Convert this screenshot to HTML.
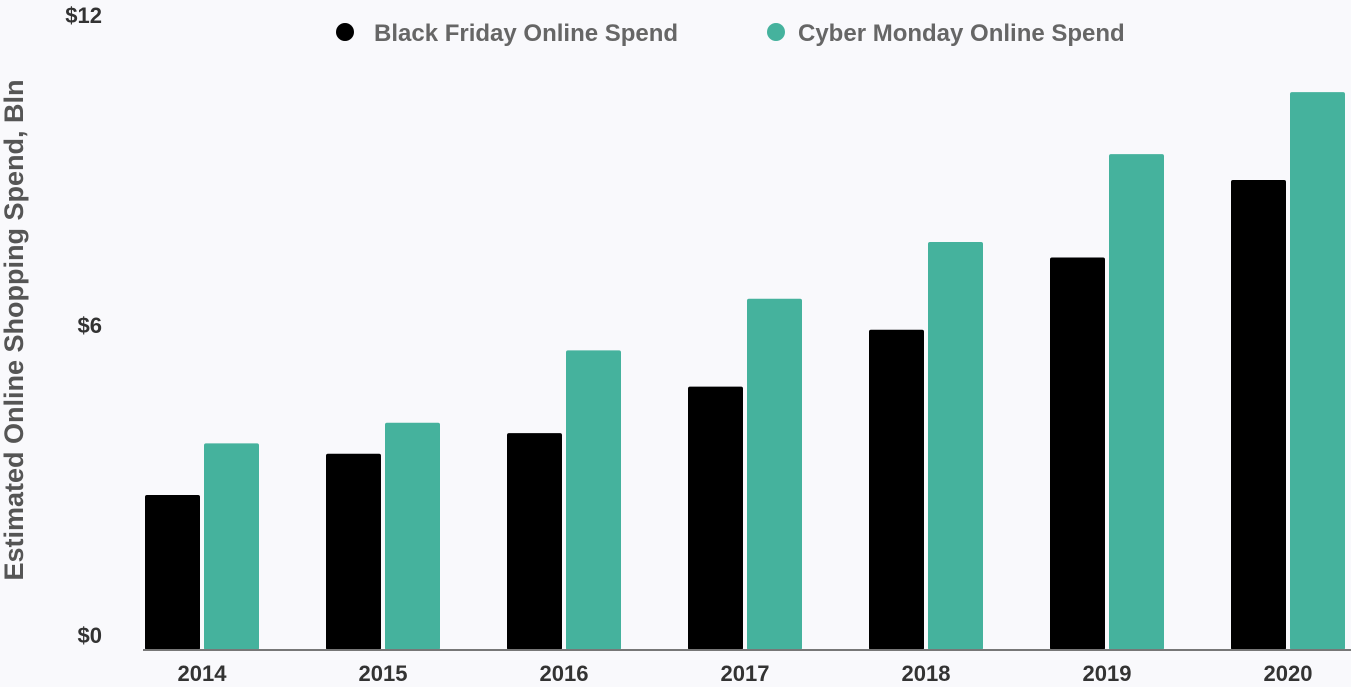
<!DOCTYPE html>
<html><head><meta charset="utf-8"><style>
html,body{margin:0;padding:0;background:#f9f9fc;}
svg{display:block;font-family:"Liberation Sans",sans-serif;font-weight:bold;}
</style></head><body>
<svg id="chart" width="1351" height="687" viewBox="0 0 1351 687">
<rect width="1351" height="687" fill="#f9f9fc"/>
<text x="16" y="330" transform="rotate(-90 16 330)" text-anchor="middle" dominant-baseline="middle" font-size="27" fill="#555">Estimated Online Shopping Spend, Bln</text>
<g>
<g><circle cx="345" cy="32" r="9" fill="#000"/><text x="374" y="41" font-size="24" fill="#666">Black Friday Online Spend</text></g>
<g><circle cx="776" cy="32" r="9" fill="#45b29d"/><text x="798" y="41" font-size="24" fill="#666">Cyber Monday Online Spend</text></g>
</g>
<g id="yticks"></g>
<g id="bars"></g>
<g id="xticks"></g>
<line x1="143" y1="650" x2="1351" y2="650" stroke="#777" stroke-width="2"/>
</svg>
<script>
const categories = ["2014","2015","2016","2017","2018","2019","2020"];
const blackFriday = [3.0, 3.8, 4.2, 5.1, 6.2, 7.6, 9.1];
const cyberMonday = [4.0, 4.4, 5.8, 6.8, 7.9, 9.6, 10.8];
const yTicks = [0, 6, 12];
const yTickLabels = ["$0", "$6", "$12"];

const NS = "http://www.w3.org/2000/svg";
const y0 = 650, pxPerUnit = 51.65;
function yScale(v){ return y0 - v * pxPerUnit; }
function xCenter(i){ return 202 + i * 181; }
const barW = 55, gap = 4;
function mk(tag, attrs){ const e = document.createElementNS(NS, tag); for (const k in attrs) e.setAttribute(k, attrs[k]); return e; }

const yg = document.getElementById('yticks');
yTicks.forEach((t, i) => {
  const tx = mk('text', {x: 102, y: yScale(t) - 7, 'text-anchor': 'end', 'font-size': 22, fill: '#333'});
  tx.textContent = yTickLabels[i];
  
  
  yg.appendChild(tx);
});

const bg = document.getElementById('bars');
const xg = document.getElementById('xticks');
categories.forEach((c, i) => {
  const cx = xCenter(i);
  const b1 = mk('rect', {x: cx - gap/2 - barW, y: yScale(blackFriday[i]), width: barW, height: y0 - yScale(blackFriday[i]), fill: '#000', rx: 2});
  
  
  bg.appendChild(b1);
  const b2 = mk('rect', {x: cx + gap/2, y: yScale(cyberMonday[i]), width: barW, height: y0 - yScale(cyberMonday[i]), fill: '#45b29d', rx: 2});
  
  
  bg.appendChild(b2);
  const t = mk('text', {x: cx, y: 681, 'text-anchor': 'middle', 'font-size': 22, fill: '#333'});
  t.textContent = c;
  
  
  xg.appendChild(t);
});
</script>
</body></html>
